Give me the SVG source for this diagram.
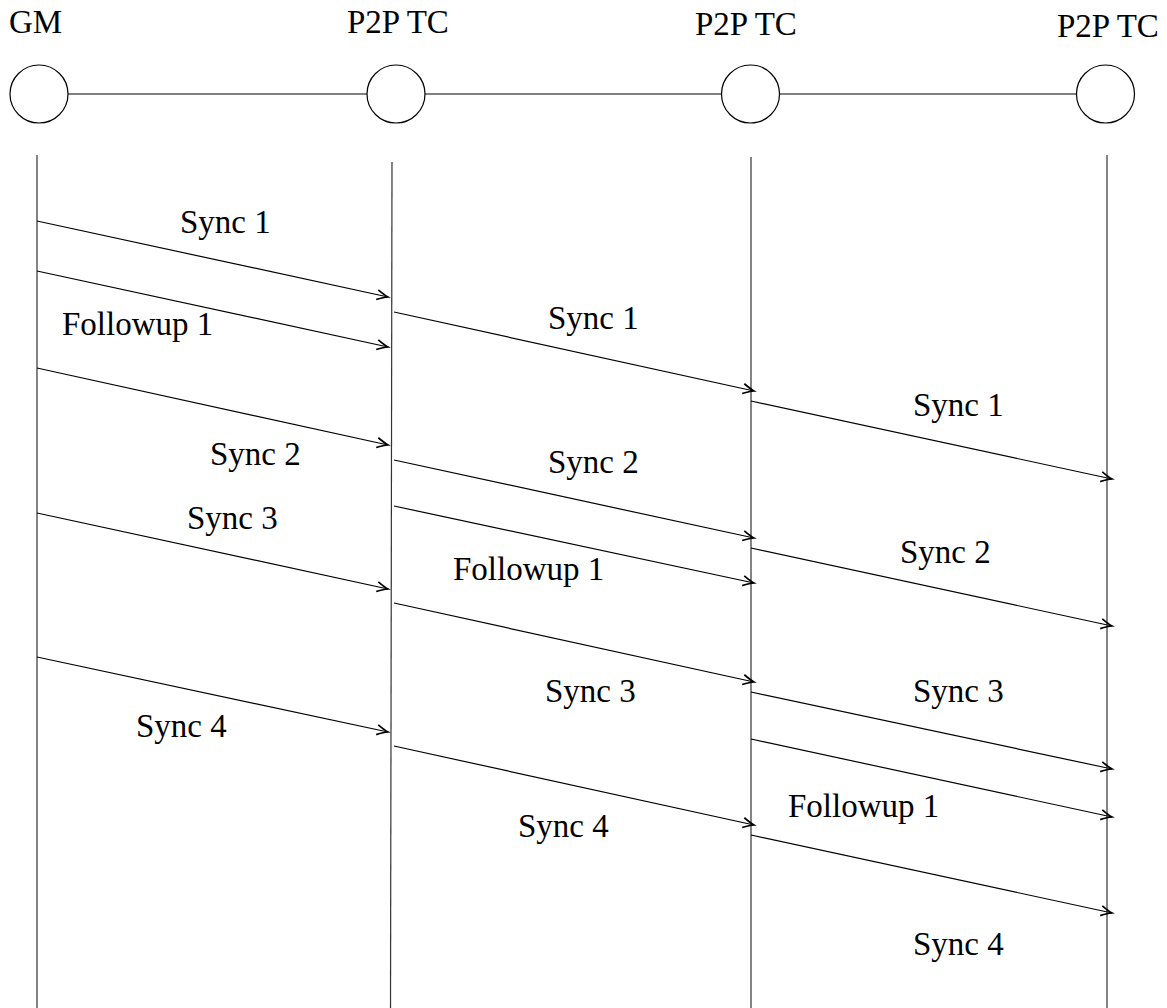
<svg xmlns="http://www.w3.org/2000/svg" width="1167" height="1008" viewBox="0 0 1167 1008">
  <style>
    .lbl { font-family: "Liberation Serif", "Times New Roman", serif; font-size: 33px; fill: #000; }
    .node { fill: #fff; stroke: #000; stroke-width: 1.2; }
    .link { stroke: #000; stroke-width: 1.2; fill: none; }
    .life { stroke: #333; stroke-width: 1.2; fill: none; }
    .msg { stroke: #000; stroke-width: 1.2; fill: none; marker-end: url(#arr); }
  </style>
  <defs>
    <marker id="arr" markerUnits="userSpaceOnUse" markerWidth="18" markerHeight="16" viewBox="-14 -8 18 16" refX="0" refY="0" orient="auto">
      <path d="M-11,-5 Q-4,-1.2 0,0 Q-4,1.2 -11,5" fill="none" stroke="#000" stroke-width="1.7"/>
    </marker>
  </defs>
  <rect width="1167" height="1008" fill="#fff"/>

  <g id="connectors">
    <line class="link" x1="68" y1="94" x2="367" y2="94"/>
    <line class="link" x1="425" y1="94" x2="722" y2="94"/>
    <line class="link" x1="779" y1="94" x2="1077" y2="94"/>

    <line class="life" x1="37" y1="155" x2="37" y2="1008"/>
    <line class="life" x1="392" y1="162" x2="390.5" y2="1008"/>
    <line class="life" x1="751" y1="157" x2="751" y2="1008"/>
    <line class="life" x1="1107" y1="155" x2="1107" y2="1008"/>

    <line class="msg" x1="37" y1="221" x2="388" y2="297"/>
    <line class="msg" x1="37" y1="271" x2="388" y2="347"/>
    <line class="msg" x1="37" y1="368" x2="388" y2="445"/>
    <line class="msg" x1="37" y1="513" x2="388" y2="589"/>
    <line class="msg" x1="37" y1="657" x2="388" y2="732"/>

    <line class="msg" x1="394" y1="312" x2="754" y2="391"/>
    <line class="msg" x1="394" y1="460" x2="754" y2="538"/>
    <line class="msg" x1="394" y1="506" x2="754" y2="583"/>
    <line class="msg" x1="394" y1="603" x2="754" y2="682"/>
    <line class="msg" x1="394" y1="746" x2="754" y2="825"/>

    <line class="msg" x1="751" y1="401" x2="1112" y2="479"/>
    <line class="msg" x1="751" y1="548" x2="1112" y2="626"/>
    <line class="msg" x1="751" y1="692" x2="1112" y2="769"/>
    <line class="msg" x1="751" y1="739" x2="1112" y2="817"/>
    <line class="msg" x1="751" y1="835" x2="1112" y2="913"/>
  </g>

  <g id="node-gm">
    <circle class="node" cx="39" cy="94" r="29"/>
    <text class="lbl" x="9" y="33">GM</text>
  </g>
  <g id="node-tc1">
    <circle class="node" cx="396" cy="94" r="29"/>
    <text class="lbl" x="347" y="33">P2P TC</text>
  </g>
  <g id="node-tc2">
    <circle class="node" cx="750.5" cy="94" r="29"/>
    <text class="lbl" x="695" y="35">P2P TC</text>
  </g>
  <g id="node-tc3">
    <circle class="node" cx="1105.5" cy="94" r="29"/>
    <text class="lbl" x="1057" y="37">P2P TC</text>
  </g>

  <g id="labels">
    <text class="lbl" x="180" y="233">Sync 1</text>
    <text class="lbl" x="62" y="335">Followup 1</text>
    <text class="lbl" x="210" y="465">Sync 2</text>
    <text class="lbl" x="187" y="529">Sync 3</text>
    <text class="lbl" x="136" y="737">Sync 4</text>

    <text class="lbl" x="548" y="329">Sync 1</text>
    <text class="lbl" x="548" y="473">Sync 2</text>
    <text class="lbl" x="453" y="580">Followup 1</text>
    <text class="lbl" x="545" y="702">Sync 3</text>
    <text class="lbl" x="518" y="837">Sync 4</text>

    <text class="lbl" x="913" y="416">Sync 1</text>
    <text class="lbl" x="900" y="563">Sync 2</text>
    <text class="lbl" x="913" y="702">Sync 3</text>
    <text class="lbl" x="788" y="817">Followup 1</text>
    <text class="lbl" x="913" y="955">Sync 4</text>
  </g>
</svg>
